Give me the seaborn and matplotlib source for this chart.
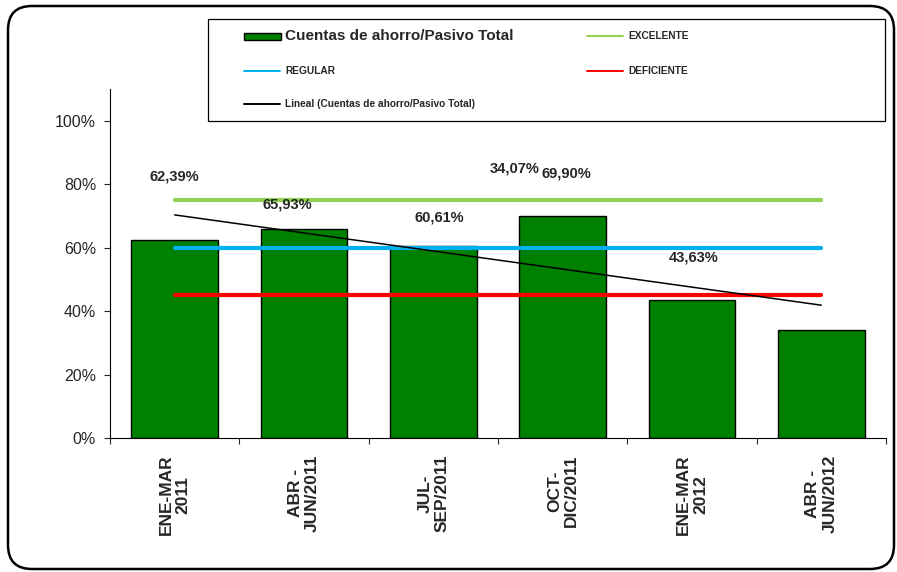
import numpy as np
import matplotlib
matplotlib.use("Agg")
import matplotlib.pyplot as plt
import seaborn as sns
from matplotlib.patches import FancyBboxPatch, Rectangle
from matplotlib.lines import Line2D
from matplotlib.ticker import FuncFormatter, FixedLocator

# ==================== Data ====================
periods = ["ENE-MAR\n2011", "ABR -\nJUN/2011", "JUL-\nSEP/2011",
           "OCT-\nDIC/2011", "ENE-MAR\n2012", "ABR -\nJUN/2012"]
ratio = [0.6239, 0.6593, 0.6061, 0.6990, 0.4363, 0.3407]
excelente = [0.75] * 6
regular = [0.60] * 6
deficiente = [0.45] * 6

# data label placement as Excel left it (category units, axis fraction)
label_pos = [(0.00, 0.823), (0.87, 0.735), (2.05, 0.694),
             (3.03, 0.833), (4.01, 0.568), (2.63, 0.849)]

C_BAR = "#008000"
C_EXC = "#92D050"
C_REG = "#00B0F0"
C_DEF = "#FF0000"

sns.set_style("white")
plt.rcParams["font.family"] = ["Liberation Sans", "DejaVu Sans"]

W, H = 897, 572
fig = plt.figure(figsize=(W / 100, H / 100), dpi=100)
ax = fig.add_axes([110 / W, 1 - 438 / H, (886 - 110) / W, (438 - 89) / H])

x = np.arange(len(periods))
sns.barplot(x=x, y=ratio, color=C_BAR, edgecolor="black", linewidth=1.0,
            width=0.67, saturation=1, ax=ax, zorder=2)

# reference levels
for vals, col in [(excelente, C_EXC), (regular, C_REG), (deficiente, C_DEF)]:
    sns.lineplot(x=x, y=vals, color=col, linewidth=3, ax=ax, zorder=3)

# linear trendline
coef = np.polyfit(x, ratio, 1)
sns.lineplot(x=x, y=np.polyval(coef, x), color="black", linewidth=1.1, ax=ax, zorder=4)

for (lx, ly), v in zip(label_pos, ratio):
    ax.text(lx, ly, f"{v * 100:.2f}%".replace(".", ","), ha="center", va="center",
            fontsize=10.5, fontweight="bold", zorder=5)

# axes styling
ax.set_xlim(-0.5, len(periods) - 0.5)
ax.set_ylim(0, 1.1)
ax.yaxis.set_major_locator(FixedLocator([0, 0.2, 0.4, 0.6, 0.8, 1.0]))
ax.yaxis.set_major_formatter(FuncFormatter(lambda v, p: f"{v * 100:.0f}%"))
ax.tick_params(axis="y", left=True, length=4, width=0.8, pad=6, labelsize=11.5)
ax.set_xticks(x)
ax.set_xticklabels(periods, rotation=90, fontsize=12.5, fontweight="bold",
                   ha="center", va="top", multialignment="center",
                   linespacing=1.15)
ax.tick_params(axis="x", which="major", length=0, pad=12)
ax.xaxis.set_minor_locator(FixedLocator(np.arange(len(periods) + 1) - 0.5))
ax.tick_params(axis="x", which="minor", bottom=True, length=4, width=0.8)
ax.set_xlabel("")
ax.set_ylabel("")
for s in ["top", "right"]:
    ax.spines[s].set_visible(False)
for s in ["left", "bottom"]:
    ax.spines[s].set_color("black")
    ax.spines[s].set_linewidth(0.8)
ax.grid(False)


def px(xp, yp):
    return xp / W, 1 - yp / H


# legend box built by hand (Excel layout)
x0, y0 = px(208, 121)
x1, y1 = px(885, 19)
fig.add_artist(Rectangle((x0, y0), x1 - x0, y1 - y0, transform=fig.transFigure,
                         facecolor="white", edgecolor="black", linewidth=0.9, zorder=10))

bx, by = px(244, 40)
bx2, by2 = px(281, 33)
fig.add_artist(Rectangle((bx, by), bx2 - bx, by2 - by, transform=fig.transFigure,
                         facecolor=C_BAR, edgecolor="black", linewidth=1.0, zorder=11))
fig.text(*px(285, 36), "Cuentas de ahorro/Pasivo Total", fontsize=11, fontweight="bold",
         va="center", ha="left", zorder=11)

small_items = [(244, 71, C_REG, "REGULAR"),
               (244, 104, "black", "Lineal (Cuentas de ahorro/Pasivo Total)"),
               (587, 36, C_EXC, "EXCELENTE"),
               (587, 71, C_DEF, "DEFICIENTE")]
for hx, hy, col, txt in small_items:
    (lx0, ly0), (lx1, _) = px(hx, hy), px(hx + 36, hy)
    fig.add_artist(Line2D([lx0, lx1], [ly0, ly0], transform=fig.transFigure,
                          color=col, linewidth=1.4, zorder=11))
    fig.text(*px(hx + 41, hy), txt, fontsize=7.3, fontweight="bold",
             va="center", ha="left", zorder=11)

# rounded outer chart border
fig.add_artist(FancyBboxPatch((0.08, 0.03), 8.86, 5.63,
                              boxstyle="round,pad=0,rounding_size=0.24",
                              transform=fig.dpi_scale_trans, facecolor="none",
                              edgecolor="black", linewidth=1.8, zorder=12))

fig.savefig("out.png", dpi=100, facecolor="white")
